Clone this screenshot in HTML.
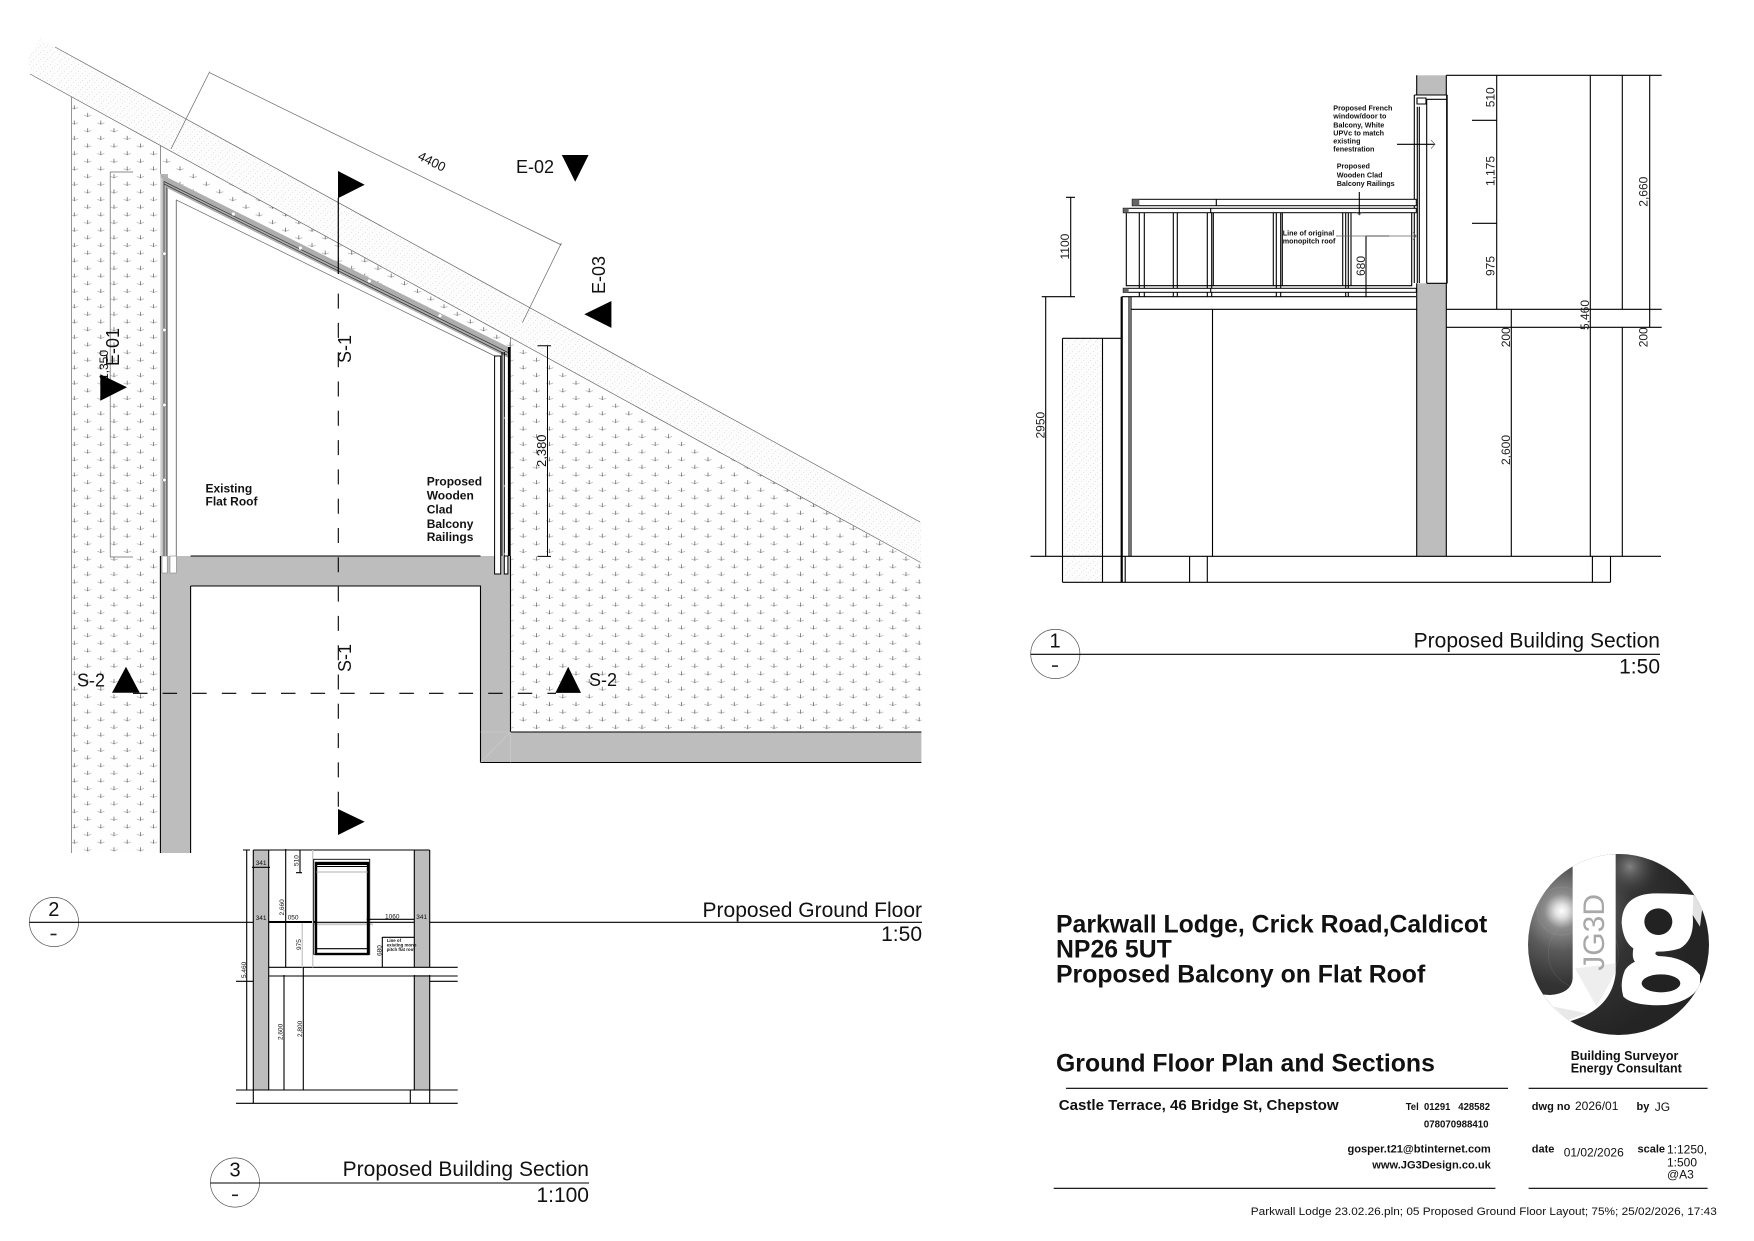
<!DOCTYPE html>
<html><head><meta charset="utf-8"><style>
html,body{margin:0;padding:0;background:#fff}
svg{display:block}
text{font-family:"Liberation Sans",sans-serif;fill:#111}
.b{font-weight:bold}
.l{fill:none;stroke:#000;stroke-width:1.1}
.t{fill:none;stroke:#666;stroke-width:.7}
.d{font-size:12px;fill:#222}
</style></head><body>
<svg width="1754" height="1241" viewBox="0 0 1754 1241" xmlns="http://www.w3.org/2000/svg">
<defs>
<pattern id="h" patternUnits="userSpaceOnUse" x="516.6" y="348.7" width="26.4" height="15.3">
<rect width="26.4" height="15.3" fill="#fefefe"/>
<g fill="none" stroke-width=".7">
<path stroke="#a8a8a8" d="M3,3.6Q5,4.4 6.6,4.8Q8.2,4.4 10.2,3.6"/><path stroke="#555" d="M6.6,1.4V5.4"/>
<path stroke="#a8a8a8" d="M16.2,11.25Q18.2,12.05 19.8,12.45Q21.4,12.05 23.4,11.25"/><path stroke="#555" d="M19.8,9.05V13.05"/>
</g>
</pattern>
<pattern id="s" patternUnits="userSpaceOnUse" width="7" height="7">
<rect width="7" height="7" fill="#fcfcfc"/>
<g fill="#e6e6e6"><rect x="1" y="1" width="1" height="1"/><rect x="5" y="3" width="1" height="1"/><rect x="3" y="5" width="1" height="1"/></g>
</pattern>
<radialGradient id="lg" gradientUnits="userSpaceOnUse" cx="185" cy="183" r="400">
<stop offset="0" stop-color="#fff"/><stop offset=".05" stop-color="#e0e0e0"/><stop offset=".13" stop-color="#8c8c8c"/><stop offset=".3" stop-color="#5a5a5a"/><stop offset=".55" stop-color="#333"/><stop offset="1" stop-color="#242424"/>
</radialGradient>
<radialGradient id="lh" gradientUnits="userSpaceOnUse" cx="390" cy="50" r="95">
<stop offset="0" stop-color="#8a8a8a" stop-opacity=".9"/><stop offset="1" stop-color="#333" stop-opacity="0"/>
</radialGradient>
<clipPath id="lc"><ellipse cx="355.5" cy="283.5" rx="271.5" ry="271.5"/></clipPath>
</defs>
<rect width="1754" height="1241" fill="#fff"/>

<!-- PLAN -->
<polygon points="28,58 40,38 55,47 921,522 921,563 30,74" fill="url(#s)"/>
<polygon points="71.6,96.8 160.4,145.4 160.4,853 71.6,853" fill="url(#h)"/>
<polygon points="160.4,145.4 510.4,337.5 510.4,348 160.4,174" fill="url(#h)"/>
<polygon points="510.4,337.5 921.4,562.7 921.4,732 510.4,732" fill="url(#h)"/>
<path class="t" d="M55,47L920,522M30,74L920.7,562.5M71.6,96.8V853M160.4,145.4V174M510.4,337.5V348"/>
<!-- walls -->
<path d="M160.4,556H510.5V732H921.4V762.5H480.5V586H190.6V853H160.4Z" fill="#bdbdbd"/>
<path class="l" d="M160.4,556V853M190.6,586V853M190.6,556H480.5M190.6,586H480.5V762.5H921.4M510.5,556V732H921.4"/>
<path d="M480.5,732H510.5V762.5M480.5,762.5L510.5,732" fill="none" stroke="#cdcdcd" stroke-width=".6"/>
<!-- left railing -->
<rect x="160.4" y="174" width="15.6" height="382" fill="#fff"/>
<rect x="160.4" y="174" width="7.6" height="382" fill="#b4b4b4"/>
<path d="M161.5,178V556" stroke="#ccc" stroke-width="2" fill="none"/>
<path d="M164,178V556M166.8,178V556" stroke="#555" stroke-width=".9" fill="none"/>
<path d="M176.3,200V556" stroke="#777" stroke-width="1" fill="none"/>
<g fill="#fff" stroke="#888" stroke-width=".6">
<rect x="162" y="556" width="5.2" height="17"/><rect x="170" y="556" width="6.4" height="17"/>
<circle cx="164.5" cy="253.7" r="1.8"/><circle cx="164.5" cy="330" r="1.8"/><circle cx="164.5" cy="405" r="1.8"/><circle cx="164.5" cy="480" r="1.8"/>
</g>
<!-- diagonal railing -->
<polygon points="160.4,174 510.4,348 510.4,359 167,188" fill="#aeaeae"/>
<path d="M164,181.5L508,352.5M164,184L507,355" stroke="#333" stroke-width=".7" fill="none"/>
<path d="M176,199.8L494.8,356" class="t"/>
<g fill="#fff"><circle cx="233.4" cy="214" r="1.6"/><circle cx="300.4" cy="248" r="1.6"/><circle cx="369.3" cy="281" r="1.6"/><circle cx="440" cy="315.7" r="1.6"/></g>
<!-- right railing -->
<rect x="494.6" y="356" width="6.1" height="218" fill="#fff" stroke="#000" stroke-width="1"/>
<rect x="504.3" y="556" width="3.6" height="18" fill="#fff" stroke="#000" stroke-width="1"/>
<path d="M502,352V556M504.3,352V556" stroke="#000" stroke-width="1.1" fill="none"/>
<rect x="507.9" y="347" width="2.8" height="209" fill="#000"/>
<g fill="#fff"><circle cx="506" cy="418" r="1.6"/><circle cx="506" cy="486" r="1.6"/><circle cx="506" cy="554" r="1.6"/></g>
<!-- section marks -->
<path d="M338.3,198V274" stroke="#000" stroke-width="1.2" fill="none"/>
<path d="M338.3,806.7V282" stroke="#000" stroke-width="1.1" fill="none" stroke-dasharray="15 14.3"/>
<path d="M133,693.3H556" stroke="#000" stroke-width="1.1" fill="none" stroke-dasharray="14.5 15.1"/>
<polygon points="338,171 364.7,184.8 338,198.2"/>
<polygon points="338,809 364.7,821.7 338,835"/>
<polygon points="561.8,155 588.6,155 575.2,181.8"/>
<polygon points="584.3,314.3 611.4,301 611.4,327.9"/>
<polygon points="555.4,692.9 581,692.9 568.2,666.8"/>
<polygon points="112,692.7 139.7,692.7 126,666.7"/>
<text x="516" y="173" font-size="18">E-02</text>
<text transform="translate(605,294) rotate(-90)" font-size="18">E-03</text>
<text transform="translate(351,363) rotate(-90)" font-size="18">S-1</text>
<text transform="translate(351,672) rotate(-90)" font-size="18">S-1</text>
<text x="589" y="686" font-size="18">S-2</text>
<text x="77" y="686.5" font-size="18">S-2</text>
<!-- dims -->
<path d="M110.2,172V557M110,172H133M110,557H133" class="t"/>
<text transform="translate(108,380) rotate(-90)" font-size="12" fill="#444">1,350</text>
<polygon points="100.3,374.3 127,387.3 100.3,400.7"/>
<text transform="translate(119,366) rotate(-90)" font-size="18">E-01</text>
<path class="t" d="M209.7,72.7L561.4,245M209.7,71.6L171,149M561.4,243L522.4,322.6"/>
<text transform="translate(417,159) rotate(26.5)" font-size="13">4400</text>
<path d="M547.5,345.7V556.4M537.5,345.7H551M537.5,556.4H551" stroke="#000" stroke-width="1" fill="none"/>
<text transform="translate(546,467) rotate(-90)" font-size="13" fill="#222">2,380</text>
<text class="b" font-size="12"><tspan x="205.5" y="492.5">Existing</tspan><tspan x="205.5" y="505.5">Flat Roof</tspan></text>
<text class="b" font-size="12"><tspan x="426.7" y="485.3">Proposed</tspan><tspan x="426.7" y="499.5">Wooden</tspan><tspan x="426.7" y="513.5">Clad</tspan><tspan x="426.7" y="527.8">Balcony</tspan><tspan x="426.7" y="541">Railings</tspan></text>

<!-- Title block 2 -->
<circle cx="54" cy="922" r="24.6" fill="#fff" stroke="#555" stroke-width=".7"/>
<path d="M29.5,922.3H922" stroke="#000" stroke-width="1.1"/>
<text x="53.8" y="916" font-size="20" text-anchor="middle">2</text>
<rect x="50.5" y="933.7" width="6" height="1.6" fill="#222"/>
<text x="922" y="917" font-size="21" text-anchor="end">Proposed Ground Floor</text>
<text x="922" y="941" font-size="21" text-anchor="end">1:50</text>

<!-- SECTION 3 -->
<path d="M253.3,850H268.7V1090H253.3Z" fill="#bdbdbd"/>
<rect x="414.3" y="850" width="15.4" height="117.3" fill="#bdbdbd"/>
<rect x="414.3" y="975" width="15.4" height="115" fill="#bdbdbd"/>
<path class="l" d="M253.3,850H429.7M253.3,850V1103.3M268.7,850V1090M414.3,850V967.3M429.7,850V967.3M414.3,975V1090M429.7,975V1103.3M268.7,967.3H457.7M268.7,976H457.7M236,981.3H253.3M429.7,981.3H457.7M236,1090H457.7M236,1103.3H457.7M410.3,1090V1103.3"/>
<path class="l" d="M246.7,850V1090M243,850H250M243,1090H250M285.7,849V967.3M300,850V872.7M296,872.7H302M252,867.3H270M284,1090V975M303.3,967V1090M382.3,937V967.3M382.3,937.3H414.3M366.7,919.3H414.3"/>
<path d="M268.7,922H316" stroke="#000" stroke-width="2"/>
<path d="M312.7,850V967.3M302.3,923V967.3" stroke="#ccc" stroke-width="1.4" fill="none"/>
<path d="M312,924.3H373" stroke="#ccc" stroke-width="2"/>
<rect x="313.7" y="859.3" width="56" height="95" fill="none" stroke="#000" stroke-width=".9"/>
<rect x="316" y="863" width="52" height="91" fill="none" stroke="#000" stroke-width="2.4"/>
<path class="l" d="M316,864.5H368M316,866.5H368M316,948.7H368" stroke-width=".8"/>
<path d="M316,872H368" stroke="#999" stroke-width=".8"/>
<g font-size="6.5" fill="#333">
<text x="255.7" y="865">341</text><text x="255.7" y="920">341</text><text x="416.3" y="919">341</text>
<text x="287.7" y="919.5">050</text><text x="385" y="918.7">1060</text>
<text transform="translate(298.6,866) rotate(-90)">510</text>
<text transform="translate(284,915.5) rotate(-90)">2,660</text>
<text transform="translate(301,950) rotate(-90)">975</text>
<text transform="translate(302,1037) rotate(-90)">2,800</text>
<text transform="translate(282.7,1040) rotate(-90)">2,600</text>
<text transform="translate(381.5,956) rotate(-90)">680</text>
<text transform="translate(246,978) rotate(-90)">5,460</text>
</g>
<text class="b" font-size="4.4"><tspan x="386.7" y="942">Line of</tspan><tspan x="386.7" y="946.5">existing mono</tspan><tspan x="386.7" y="951">pitch flat roof</tspan></text>

<!-- Title block 3 -->
<circle cx="235" cy="1182.5" r="24.6" fill="#fff" stroke="#555" stroke-width=".7"/>
<path d="M210.5,1183H589" stroke="#000" stroke-width="1.1"/>
<text x="235" y="1176.5" font-size="20" text-anchor="middle">3</text>
<rect x="232" y="1194.5" width="6" height="1.6" fill="#222"/>
<text x="589" y="1176" font-size="21" text-anchor="end">Proposed Building Section</text>
<text x="589" y="1202" font-size="21" text-anchor="end">1:100</text>

<!-- SECTION 1 -->
<rect x="1062.5" y="338.3" width="40" height="244" fill="url(#s)"/>
<rect x="1416.7" y="75.3" width="29.6" height="480.7" fill="#bdbdbd"/>
<rect x="1414.3" y="95" width="33" height="188.3" fill="#fff"/>
<path class="l" d="M1416.7,75.3V95M1446.3,75.3V95M1416.7,283.3V556.3M1446.3,283.3V556.3"/>
<path class="l" d="M1030.5,556.3H1661M1062.5,582.3H1610.5M1062.5,338.3V582.3M1102.5,338.3V582.3M1062.5,338.3H1121.4M1125.2,556.3V582.3M1189.6,556.3V582.3M1207.3,556.3V582.3M1592.4,556.3V582.3M1610.5,556.3V582.3"/>
<path d="M1121.7,296.7V582.3" stroke="#000" stroke-width="2.2"/>
<path class="l" d="M1129,296.7V556.3M1131,296.7V556.3M1121.7,296.7H1416M1131,309.3H1416.7M1212.5,309.3V556.3"/>
<!-- window -->
<path class="l" d="M1426.7,99.3H1447.3M1426.7,99.3V283.3M1426.7,283.3H1447.3M1414.3,95H1447.3M1414.3,95V283M1417.3,106.7V283M1419.3,106.7V283M1417,98H1426V104H1417Z"/>
<path d="M1446.9,95V283.3" stroke="#000" stroke-width="1.6"/>
<!-- railing -->
<rect x="1132.3" y="199.3" width="284" height="6.4" fill="#fff" stroke="#000" stroke-width="1"/>
<rect x="1132.3" y="199.3" width="7" height="6.4" fill="#666"/>
<rect x="1123.3" y="208.3" width="293" height="4.4" fill="#fff" stroke="#000" stroke-width="1"/>
<rect x="1123.3" y="208.3" width="5.3" height="4.4" fill="#666"/>
<rect x="1123.3" y="288.3" width="293" height="4" fill="#fff" stroke="#000" stroke-width="1"/>
<rect x="1123.3" y="288.3" width="5.3" height="4" fill="#666"/>
<path class="l" d="M1216.3,199.3V205.7M1210.7,208.3V212.7M1210.7,288.3V292.3"/>
<path class="l" d="M1139.3,212.7V288.3M1144.3,212.7V288.3M1173.3,212.7V288.3M1177.3,212.7V288.3M1207.3,212.7V288.3M1211.7,212.7V288.3M1276.3,212.7V288.3M1280.7,212.7V288.3M1345.7,212.7V288.3M1348.3,212.7V288.3"/>
<path class="l" d="M1139.3,292.3V296.7M1144.3,292.3V296.7M1173.3,292.3V296.7M1177.3,292.3V296.7M1207.3,292.3V296.7M1211.7,292.3V296.7M1276.3,292.3V296.7M1280.7,292.3V296.7M1345.7,292.3V296.7M1348.3,292.3V296.7"/>
<path class="l" d="M1126.3,212.7V285.7H1411.7V212.7M1213.3,212.7V285.7M1273.3,212.7V285.7M1282.3,212.7V285.7M1342.7,212.7V285.7M1351,212.7V285.7"/>
<!-- section 1 dims -->
<path class="l" d="M1446.3,75.3H1661.7M1446.3,309.3H1661.7M1446.3,327.3H1661.7M1496.7,75.3V309.3M1590.3,75.3V556.3M1622.3,75.3V309.3M1622.3,327.3V556.3M1649.7,75.3V327.3M1472,120.3H1496.7M1472,223.3H1496.7M1511.3,309.3V556.3M1070.7,197.3V296.7M1066,197.3H1075M1041.7,296.7H1075M1045.7,296.7V556.3M1366,236V297.3M1366,236H1389.3M1397,144.3H1435M1359.3,192V215"/>
<path class="t" d="M1336,236H1416.7M1431,140L1435,144.3L1431,148.6M1356,212L1359.3,215L1362.6,212M1413,232L1416,236L1413,240"/>
<g class="d">
<text class="d" transform="translate(1494.7,107.3) rotate(-90)">510</text>
<text class="d" transform="translate(1494.7,186) rotate(-90)">1,175</text>
<text class="d" transform="translate(1494.7,276) rotate(-90)">975</text>
<text class="d" transform="translate(1647.3,206.7) rotate(-90)">2,660</text>
<text class="d" transform="translate(1589,330) rotate(-90)">5,460</text>
<text class="d" transform="translate(1510,347.3) rotate(-90)">200</text>
<text class="d" transform="translate(1647.3,347.3) rotate(-90)">200</text>
<text class="d" transform="translate(1365,276) rotate(-90)">680</text>
<text class="d" transform="translate(1510,465) rotate(-90)">2,600</text>
<text class="d" transform="translate(1044.4,438.5) rotate(-90)">2950</text>
<text class="d" transform="translate(1069,259.5) rotate(-90)">1100</text>
</g>
<text class="b" font-size="7.2"><tspan x="1333.3" y="110.7">Proposed French</tspan><tspan x="1333.3" y="118.7">window/door to</tspan><tspan x="1333.3" y="127.7">Balcony, White</tspan><tspan x="1333.3" y="135.3">UPVc to match</tspan><tspan x="1333.3" y="143.7">existing</tspan><tspan x="1333.3" y="151.7">fenestration</tspan></text>
<text class="b" font-size="7.2"><tspan x="1336.7" y="168.7">Proposed</tspan><tspan x="1336.7" y="177.7">Wooden Clad</tspan><tspan x="1336.7" y="186">Balcony Railings</tspan></text>
<text class="b" font-size="7.2"><tspan x="1282.7" y="235.7">Line of original</tspan><tspan x="1282.7" y="243.3">monopitch roof</tspan></text>

<!-- Title block 1 -->
<circle cx="1055.3" cy="654" r="24.6" fill="#fff" stroke="#555" stroke-width=".7"/>
<path d="M1030.5,654.3H1660" stroke="#000" stroke-width="1.1"/>
<text x="1055" y="647.7" font-size="20" text-anchor="middle">1</text>
<rect x="1052" y="665.3" width="6" height="1.6" fill="#222"/>
<text x="1660" y="647.7" font-size="21" text-anchor="end">Proposed Building Section</text>
<text x="1660" y="673.3" font-size="21" text-anchor="end">1:50</text>

<!-- Sheet title -->
<text class="b" font-size="24.8"><tspan x="1056" y="932.7">Parkwall Lodge, Crick Road,Caldicot</tspan><tspan x="1056" y="957.3">NP26 5UT</tspan><tspan x="1056" y="982.3">Proposed Balcony on Flat Roof</tspan></text>
<text class="b" x="1056" y="1071.7" font-size="24.8">Ground Floor Plan and Sections</text>
<path class="l" d="M1066,1088.3H1508M1528.6,1088.3H1707.6M1053.7,1188.3H1495.4M1528.6,1188.3H1707.6"/>
<text class="b" x="1058.7" y="1110" font-size="15.1">Castle Terrace, 46 Bridge St, Chepstow</text>
<text class="b" x="1405.7" y="1110" font-size="10.5" textLength="84.3" lengthAdjust="spacingAndGlyphs" xml:space="preserve">Tel  01291   428582</text>
<text class="b" x="1423.9" y="1127.3" font-size="10.5" textLength="64.6" lengthAdjust="spacingAndGlyphs">078070988410</text>
<text class="b" x="1490.8" y="1152.7" font-size="11.1" text-anchor="end">gosper.t21@btinternet.com</text>
<text class="b" x="1490.8" y="1168.7" font-size="11.1" text-anchor="end">www.JG3Design.co.uk</text>
<text class="b" x="1531.8" y="1110" font-size="11">dwg no</text>
<text x="1575" y="1110" font-size="12">2026/01</text>
<text class="b" x="1636.5" y="1110" font-size="11">by</text>
<text x="1654.8" y="1111" font-size="12">JG</text>
<text class="b" x="1531.8" y="1152.7" font-size="11">date</text>
<text x="1563.7" y="1156.7" font-size="12">01/02/2026</text>
<text class="b" x="1637.5" y="1152.7" font-size="11">scale</text>
<text font-size="12"><tspan x="1667" y="1153.7">1:1250,</tspan><tspan x="1667" y="1166.7">1:500</tspan><tspan x="1667" y="1178.3">@A3</tspan></text>
<text class="b" x="1570.7" y="1060" font-size="12.5">Building Surveyor</text>
<text class="b" x="1570.7" y="1072.7" font-size="12.5">Energy Consultant</text>
<text x="1250.8" y="1215" font-size="11" textLength="466" lengthAdjust="spacingAndGlyphs">Parkwall Lodge 23.02.26.pln; 05 Proposed Ground Floor Layout; 75%; 25/02/2026, 17:43</text>

<!-- Logo (drawn in 3x crop coordinates) -->
<g transform="translate(1500,850) scale(.33333)">
<g clip-path="url(#lc)">
<rect x="80" y="8" width="552" height="552" fill="url(#lg)"/>
<circle cx="390" cy="50" r="95" fill="url(#lh)"/>
<circle cx="185" cy="183" r="72" fill="none" stroke="#aaa" stroke-opacity=".3" stroke-width="2"/>
<circle cx="250" cy="310" r="105" fill="none" stroke="#aaa" stroke-opacity=".2" stroke-width="2"/>
<!-- J -->
<path d="M218,0V385Q215,430 150,435L70,430L70,560H205V515Q335,480 347,370V0Z" fill="#fff"/>
<path d="M205,515L205,560H80V500Z" fill="#fff"/>
<path d="M225,355L290,470L345,370L345,340Z" fill="#eee"/>
<path d="M160,470L205,510L260,490Z" fill="#e8e8e8"/>
<!-- g -->
<path d="M365,220Q365,130 470,130Q540,130 580,135L600,180L578,195Q585,270 540,295Q510,305 470,305Q460,312 475,318Q560,320 600,375V400Q585,450 500,465Q400,470 370,440Q358,400 375,360Q385,345 405,335Q395,325 400,295Q370,275 365,220Z" fill="#fff"/>
<ellipse cx="475" cy="215" rx="42" ry="40" fill="#222"/>
<ellipse cx="483" cy="400" rx="58" ry="27" fill="#222"/>
<path d="M580,135L610,150L600,230L578,195Z" fill="#e2e2e2"/>
<path d="M515,200Q520,145 575,135Q560,160 578,195Q560,190 530,240Z" fill="#fff"/>
</g>
</g>
<text transform="translate(1604,970.7) rotate(-90)" font-size="30" style="fill:#a8a8a8">JG3D</text>
</svg>
</body></html>
